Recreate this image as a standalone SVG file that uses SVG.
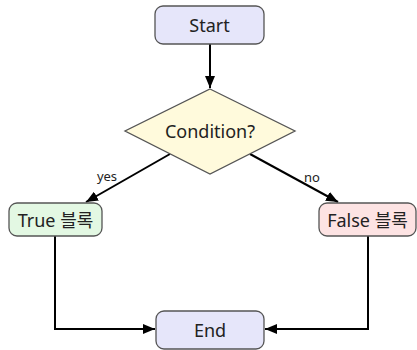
<svg xmlns="http://www.w3.org/2000/svg" width="417" height="350" viewBox="0 0 417 350">
<defs>
<marker id="ah" markerWidth="12" markerHeight="10" refX="12" refY="5" orient="auto" markerUnits="userSpaceOnUse"><path d="M0,0 L12,5 L0,10 Z" fill="#000"/></marker>
<style>
.n{stroke:#555;stroke-width:1.3}
.t{font-family:"Noto Sans","Noto Sans CJK KR",sans-serif;font-size:18px;fill:#222;text-anchor:middle;dominant-baseline:central}
.l{font-family:"Noto Sans",sans-serif;font-size:13px;fill:#222;text-anchor:middle}
.e{fill:none;stroke:#000;stroke-width:2}
</style>
</defs>
<rect width="417" height="350" fill="#fff"/>
<g id="edges">
<line class="e" x1="170" y1="154" x2="86" y2="202" marker-end="url(#ah)"/>
<line class="e" x1="250" y1="154" x2="338" y2="202" marker-end="url(#ah)"/>
<line class="e" x1="210" y1="44" x2="210" y2="88" marker-end="url(#ah)"/>
<polyline class="e" points="55,236 55,329 155,329" marker-end="url(#ah)"/>
<polyline class="e" points="368,236 368,329 265,329" marker-end="url(#ah)"/>
<text class="l" x="107" y="181">yes</text>
<text class="l" x="312" y="182">no</text>
</g>
<g id="start"><rect class="n" x="155" y="6" width="109" height="38" rx="8" fill="#e6e6fa"/><text class="t" x="209.5" y="25">Start</text></g>
<g id="cond"><polygon class="n" points="210,89 295,131 210,174 125,131" fill="#fffadc"/><text class="t" x="210" y="131">Condition?</text></g>
<g id="true"><rect class="n" x="9" y="203" width="93" height="33" rx="8" fill="#e3f8e3"/><text class="t" x="55.5" y="219.5">True 블록</text></g>
<g id="false"><rect class="n" x="319" y="203" width="97" height="33" rx="8" fill="#fde3e3"/><text class="t" x="367.5" y="219.5">False 블록</text></g>
<g id="end"><rect class="n" x="156" y="311" width="108" height="38" rx="8" fill="#e6e6fa"/><text class="t" x="210" y="330">End</text></g>
</svg>
